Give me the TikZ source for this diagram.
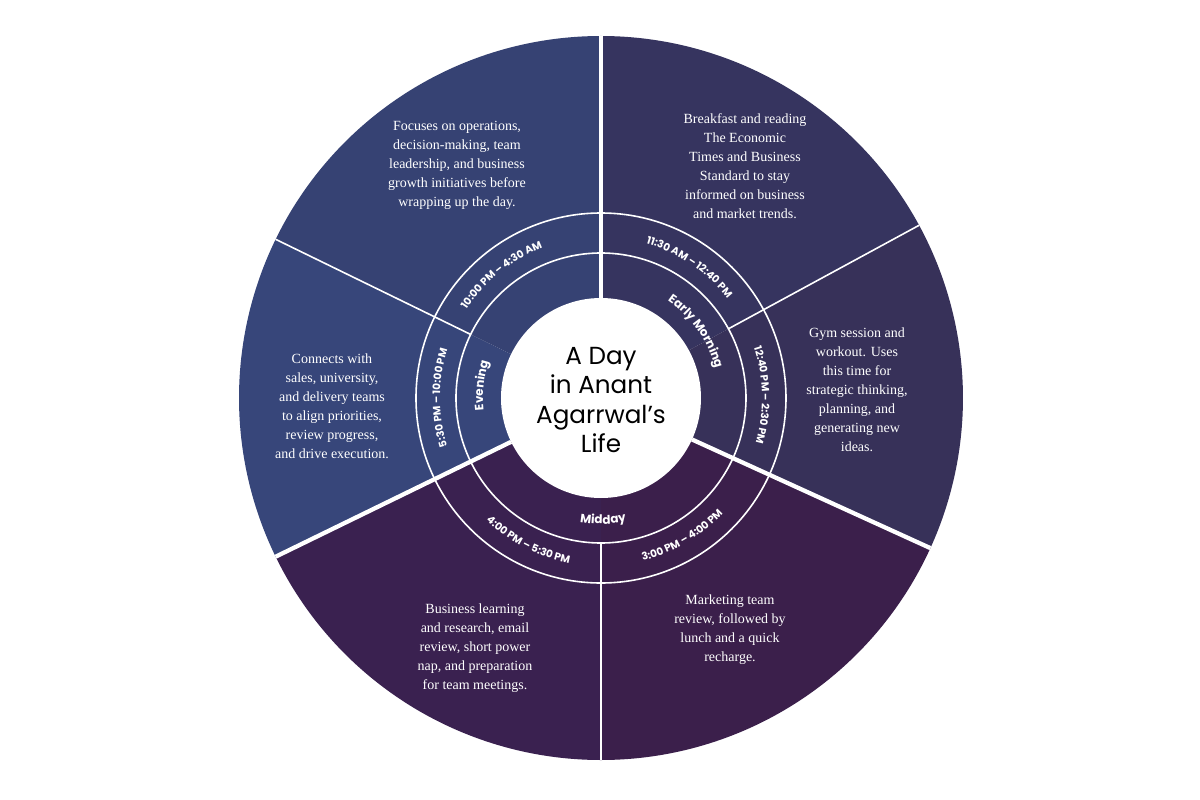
\documentclass[tikz,border=0pt]{standalone}
\usepackage{fontspec}
\setmainfont{Liberation Serif}
\setsansfont{Poppins}
\usetikzlibrary{decorations.text}
\definecolor{cA}{HTML}{36345F}
\definecolor{cB}{HTML}{373159}
\definecolor{cC}{HTML}{3B1F4B}
\definecolor{cD}{HTML}{3A2150}
\definecolor{cE}{HTML}{37467A}
\definecolor{cF}{HTML}{364273}
\tikzset{
  desc/.style={text=white,align=center,font=\fontsize{10.5}{14.25}\selectfont},
  thin sep/.style={draw=white,line width=1.2pt},
  thick sep/.style={draw=white,line width=3.2pt},
}
\newcommand{\cwlabel}[4]{% angle, radius, font, text (clockwise, tops outward)
  \path[decorate,decoration={text along path,text align=center,text={|#3|#4}}]
    ({#1+45}:#2) arc[start angle={#1+45},end angle={#1-45},radius=#2];}
\newcommand{\ccwlabel}[4]{% tops inward
  \path[decorate,decoration={text along path,text align=center,text={|#3|#4}}]
    ({#1-45}:#2) arc[start angle={#1-45},end angle={#1+45},radius=#2];}
\begin{document}
\begin{tikzpicture}[x=0.75pt,y=0.75pt]
\fill[white] (-601,-402) rectangle (599,398);
\useasboundingbox (-601,-402) rectangle (599,398);
\def\R{362}
\fill[cA] (0,0) -- (28.5:\R) arc[start angle=28.5,end angle=90,radius=\R] -- cycle;
\fill[cB] (0,0) -- (-24.5:\R) arc[start angle=-24.5,end angle=28.5,radius=\R] -- cycle;
\fill[cC] (0,0) -- (-90:\R) arc[start angle=-90,end angle=-24.5,radius=\R] -- cycle;
\fill[cD] (0,0) -- (-154:\R) arc[start angle=-154,end angle=-90,radius=\R] -- cycle;
\fill[cE] (0,0) -- (154:\R) arc[start angle=154,end angle=206,radius=\R] -- cycle;
\fill[cF] (0,0) -- (90:\R) arc[start angle=90,end angle=154,radius=\R] -- cycle;
% rings
\draw[thin sep] (0,0) circle[radius=145];
\draw[thin sep] (0,0) circle[radius=185];
\foreach \a in {28.5,-90,154} \draw[thin sep] (\a:145) -- (\a:\R);
\draw[draw=white,line width=2.4pt] (90:100) -- (90:\R);
\foreach \a in {-24.5,206} \draw[thick sep] (\a:100) -- (\a:\R);
\fill[white] (0,0) circle[radius=100];
\node[font=\sffamily\fontsize{18.5}{22}\selectfont,align=center,text=black] (title) at (0,-2) {A Day\\in Anant\\Agarrwal’s\\Life};
% category labels
\cwlabel{174}{118}{\sffamily\bfseries\fontsize{9}{11}\selectfont\color{white}}{Evening}
\cwlabel{35}{118}{\sffamily\bfseries\fontsize{9}{11}\selectfont\color{white}}{Early Morning}
\ccwlabel{-89}{126}{\sffamily\bfseries\fontsize{9}{11}\selectfont\color{white}}{Midday}
% time labels
\cwlabel{129}{161}{\sffamily\bfseries\fontsize{7.8}{9}\selectfont\color{white}}{10:00 PM – 4:30 AM}
\cwlabel{56}{161}{\sffamily\bfseries\fontsize{7.8}{9}\selectfont\color{white}}{11:30 AM – 12:40 PM}
\cwlabel{1}{161}{\sffamily\bfseries\fontsize{7.8}{9}\selectfont\color{white}}{12:40 PM – 2:30 PM}
\cwlabel{180}{161}{\sffamily\bfseries\fontsize{7.8}{9}\selectfont\color{white}}{5:30 PM – 10:00 PM}
\ccwlabel{-59.5}{168}{\sffamily\bfseries\fontsize{7.8}{9}\selectfont\color{white}}{3:00 PM – 4:00 PM}
\ccwlabel{-117}{168}{\sffamily\bfseries\fontsize{7.8}{9}\selectfont\color{white}}{4:00 PM – 5:30 PM}
% descriptions
\node[desc] (d1) at (-144,233) {Focuses on operations,\\decision-making, team\\leadership, and business\\growth initiatives before\\wrapping up the day.};
\node[desc] (d2) at (144,232) {Breakfast and reading\\The Economic\\Times and Business\\Standard to stay\\informed on business\\and market trends.};
\node[desc] (d3) at (256,8) {Gym session and\\workout. Uses\\this time for\\strategic thinking,\\planning, and\\generating new\\ideas.};
\node[desc] (d4) at (129,-232) {Marketing team\\review, followed by\\lunch and a quick\\recharge.};
\node[desc] (d5) at (-126,-250) {Business learning\\and research, email\\review, short power\\nap, and preparation\\for team meetings.};
\node[desc] (d6) at (-269,-8) {Connects with\\sales, university,\\and delivery teams\\to align priorities,\\review progress,\\and drive execution.};
\end{tikzpicture}
\end{document}
